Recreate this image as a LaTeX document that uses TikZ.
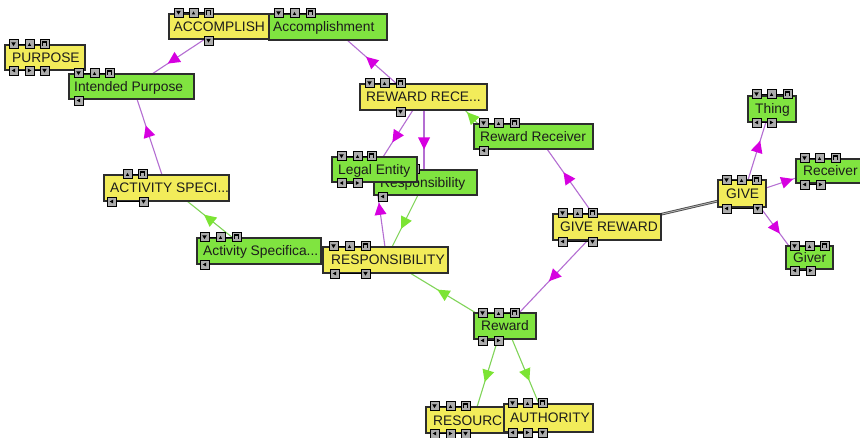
\documentclass[tikz,border=0pt]{standalone}
\usepackage{fontspec}
\setmainfont{Liberation Sans}
\usetikzlibrary{calc,decorations.markings}
\pgfdeclarelayer{bg}
\pgfsetlayers{bg,main}
\definecolor{yel}{RGB}{242,236,90}
\definecolor{grn}{RGB}{128,228,64}
\definecolor{mline}{RGB}{180,110,210}
\definecolor{mtricol}{RGB}{214,0,224}
\definecolor{gline}{RGB}{128,212,88}
\definecolor{gtricol}{RGB}{124,228,52}
\definecolor{btnfill}{RGB}{172,172,172}
\definecolor{txt}{RGB}{28,28,28}
\definecolor{bord}{RGB}{45,45,45}
\tikzset{
  cgb/.style={draw=bord, line width=1.2pt, inner sep=0pt, outer sep=0pt},
  cgt/.style={inner sep=0pt, text=txt, font=\fontsize{13.8}{15}\selectfont},
  btnbox/.style={draw=black, line width=0.9pt, fill=btnfill},
  btnlink/.style={draw=black, line width=0.9pt},
  magl/.style={draw=mline, line width=1.1pt},
  grnl/.style={draw=gline, line width=1.1pt},
  mtri/.style={postaction={decorate, decoration={markings, mark=at position #1 with {\fill[mtricol] (6.5,0) -- (-5.5,6) -- (-5.5,-6) -- cycle;}}}},
  gtri/.style={postaction={decorate, decoration={markings, mark=at position #1 with {\fill[gtricol] (6.5,0) -- (-5.5,6) -- (-5.5,-6) -- cycle;}}}},
  coref/.style={draw=gray!60!black, double=gray!55, double distance=0.8pt, line width=0.9pt}
}
% box: name x y w h fill inset text
\newcommand\cgbox[8]{%
  \node[cgb, fill=#6, minimum width=#4pt, minimum height=#5pt, anchor=north west] (#1) at (#2,#3) {};
  \node[cgt, anchor=base west] (#1t) at ($(#1.west)+(#7,5)$) {#8};}
\newcommand\cggd{\fill (2.2,2.8) -- (6.8,2.8) -- (4.5,6.6) -- cycle;}
\newcommand\cggu{\fill (2.9,6.3) -- (6.1,6.3) -- (4.5,3.4) -- cycle;}
\newcommand\cggh{\fill (2.2,1.9) rectangle (6.8,3.4); \draw[line width=0.9pt] (2.7,2) -- (2.7,7) (6.3,2) -- (6.3,7);}
\newcommand\cggl{\fill (6.2,2.5) -- (6.2,6.5) -- (2.7,4.5) -- cycle;}
\newcommand\cggr{\fill (2.8,2.5) -- (2.8,6.5) -- (6.3,4.5) -- cycle;}
\newcommand\cgbtn[3]{\begin{scope}[shift={(#1,#2)}]\draw[btnbox] (0,0) rectangle (9,9); \csname cgg#3\endcsname\end{scope}}
% row: y xfirst xlast list
\newcommand\cgrow[4]{%
  \draw[btnlink] (#2+4,#1+4.5) -- (#3+4,#1+4.5);
  \foreach \bx/\bt in {#4}{\cgbtn{\bx}{#1}{\bt}}}
\begin{document}
\begin{tikzpicture}[x=1pt,y=-1pt]
\useasboundingbox (0,0) rectangle (860,438);
\begin{pgfonlayer}{bg}
\fill[white] (0,0) rectangle (860,438);
\end{pgfonlayer}
% PURPOSE
\cgbox{purp}{5}{45}{80}{25}{yel}{7}{PURPOSE}
\cgrow{39.5}{9}{40}{9/d,25/u,40/h}
\cgrow{66}{9}{40}{9/l,25/r,40/d}
% ACCOMPLISH
\cgbox{acc}{169}{14}{101}{25}{yel}{4.5}{ACCOMPLISH}
\cgrow{8}{174}{204}{174/d,189/u,204/h}
\cgrow{36}{204}{204}{204/d}
% Accomplishment
\cgbox{accm}{269}{14}{118}{26}{grn}{4}{Accomplishment}
\cgrow{8.5}{274}{306}{274/d,290/u,306/h}
% Intended Purpose
\cgbox{ip}{69}{74}{125}{25}{grn}{5}{Intended Purpose}
\cgrow{68.5}{74}{105}{74/d,90/u,105/h}
\cgrow{96}{74}{74}{74/l}
% REWARD RECE...
\cgbox{rrece}{360}{84}{127}{26}{yel}{6}{REWARD RECE...}
\cgrow{78.5}{365}{396}{365/d,380/u,396/h}
\cgrow{107}{396}{396}{396/d}
% Reward Receiver
\cgbox{rrecv}{474}{124}{119}{25}{grn}{6}{Reward Receiver}
\cgrow{118.5}{479}{510}{479/d,494/u,510/h}
\cgrow{146}{479}{479}{479/l}
% ACTIVITY SPECI...
\cgbox{aspec}{104}{175}{125}{26}{yel}{6}{ACTIVITY SPECI...}
\cgrow{169.5}{123}{138}{123/u,138/h}
\cgrow{197}{107}{139}{107/l,139/d}
% Activity Specifica...
\cgbox{aspecf}{197}{238}{124}{26}{grn}{6}{Activity Specifica...}
\cgrow{232.5}{200}{232}{200/d,216/u,232/h}
\cgrow{260}{200}{200}{200/l}
% Responsibility (green)
\cgbox{respg}{374}{170}{103}{25}{grn}{6}{Responsibility}
\cgrow{164.5}{378}{410}{378/d,394/u,410/h}
\cgrow{192}{378}{378}{378/l}
% Legal Entity
\cgbox{legal}{332}{157}{85}{25}{grn}{6}{Legal Entity}
\cgrow{151.5}{337}{367}{337/d,353/u,367/h}
\cgrow{178.5}{337}{353}{337/l,353/r}
% RESPONSIBILITY
\cgbox{respy}{323}{247}{125}{26}{yel}{8}{RESPONSIBILITY}
\cgrow{241.5}{329}{361}{329/d,345/u,361/h}
\cgrow{269}{330}{361}{330/l,361/d}
% GIVE REWARD
\cgbox{givr}{553}{214}{108}{26}{yel}{7}{GIVE REWARD}
\cgrow{208.5}{558}{588}{558/d,573/u,588/h}
\cgrow{237}{558}{588}{558/l,588/d}
% GIVE
\cgbox{give}{718}{180}{48}{27}{yel}{8}{GIVE}
\cgrow{175.5}{722}{752}{722/d,737/u,752/h}
\cgrow{204}{722}{753}{722/l,753/d}
% Thing
\cgbox{thing}{748}{96}{48}{26}{grn}{7}{Thing}
\cgrow{89.5}{752}{783}{752/d,767/u,783/h}
\cgrow{118}{752}{767}{752/l,767/r}
% Receiver
\cgbox{recv}{796}{159}{70}{24}{grn}{7}{Receiver}
\cgrow{153.5}{800}{831}{800/d,815/u,831/h}
\cgrow{180}{800}{816}{800/l,816/r}
% Giver
\cgbox{giver}{786}{246}{47}{23}{grn}{7}{Giver}
\cgrow{241.5}{790}{820}{790/d,805/u,820/h}
\cgrow{266}{790}{806}{790/l,806/r}
% Reward
\cgbox{reward}{474}{313}{62}{26}{grn}{7}{Reward}
\cgrow{308.5}{478}{510}{478/d,494/u,510/h}
\cgrow{336}{478}{494}{478/l,494/r}
% RESOURC
\cgbox{resrc}{426}{407}{100}{26}{yel}{7}{RESOURC}
\cgrow{401.5}{430}{461}{430/d,446/u,461/h}
\cgrow{429}{430}{461}{430/l,446/r,461/d}
% AUTHORITY
\cgbox{auth}{504}{404}{89}{28}{yel}{6}{AUTHORITY}
\cgrow{398.5}{508}{538}{508/d,523/u,538/h}
\cgrow{428}{508}{538}{508/l,523/r,538/d}
% connectors
\begin{pgfonlayer}{bg}
\draw[magl, mtri=0.6] ($(acc.north west)+(36,25)$) -- ($(ip.north west)+(83,0)$);
\draw[magl, mtri=0.57] ($(aspec.north west)+(58,0)$) -- ($(ip.north west)+(68,25)$);
\draw[grnl, gtri=0.52] ($(aspecf.north west)+(36,0)$) -- ($(aspec.north west)+(83,26)$);
\draw[magl, mtri=0.52] ($(rrece.north west)+(37,0)$) -- ($(accm.north west)+(78,26)$);
\draw[magl, mtri=0.57] ($(rrece.north west)+(53,26)$) -- ($(legal.north west)+(51,0)$);
\draw[magl, mtri=0.55] ($(rrece.north west)+(64,26)$) -- ($(respg.north west)+(50,0)$);
\draw[grnl, gtri=0.5] ($(rrecv.north west)+(4,0)$) -- ($(rrece.north west)+(105,26)$);
\draw[magl, mtri=0.56] ($(givr.north west)+(40,0)$) -- ($(rrecv.north west)+(73,25)$);
\draw[magl, mtri=0.5] ($(givr.north west)+(35,26)$) -- ($(reward.north west)+(45,0)$);
\draw[coref] ($(givr.north west)+(105,1)$) -- ($(give.north west)+(0,21)$);
\draw[magl, mtri=0.57] ($(give.north west)+(30,0)$) -- ($(thing.north west)+(18,26)$);
\draw[magl, mtri=0.7] ($(give.north west)+(48,8)$) -- ($(recv.north west)+(0,19)$);
\draw[magl, mtri=0.55] ($(give.north west)+(42,27)$) -- ($(giver.north west)+(3,0)$);
\draw[magl, mtri=0.58] ($(respy.north west)+(62,0)$) -- ($(legal.north west)+(44,25)$);
\draw[grnl, gtri=0.54] ($(respg.north west)+(44,25)$) -- ($(respy.north west)+(69,0)$);
\draw[grnl, gtri=0.5] ($(reward.north west)+(2,0)$) -- ($(respy.north west)+(87,26)$);
\draw[grnl, gtri=0.54] ($(reward.north west)+(24,26)$) -- ($(resrc.north west)+(51,0)$);
\draw[grnl, gtri=0.55] ($(reward.north west)+(38,26)$) -- ($(auth.north west)+(35,0)$);
\end{pgfonlayer}
\end{tikzpicture}
\end{document}
